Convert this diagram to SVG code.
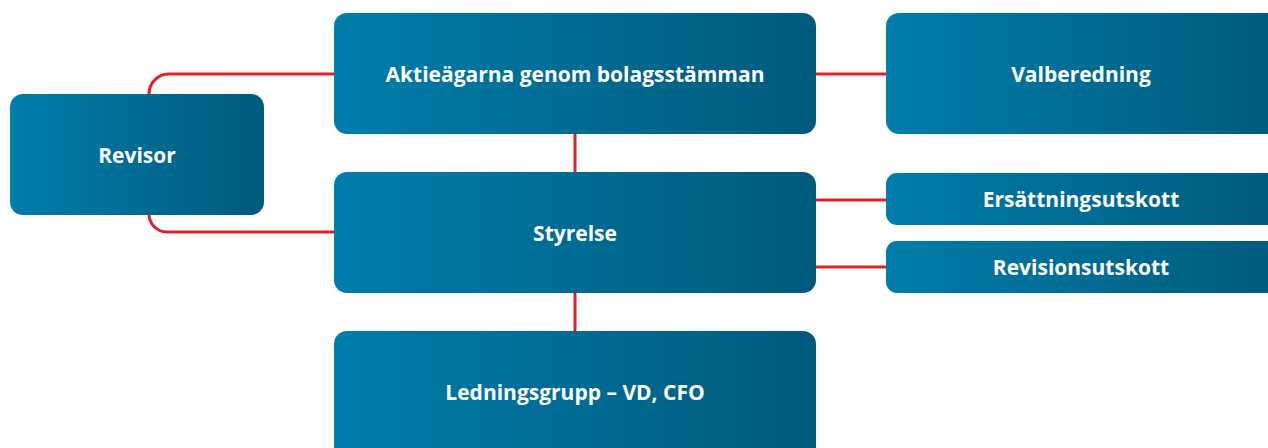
<svg xmlns="http://www.w3.org/2000/svg" width="1268" height="448" viewBox="0 0 1268 448">
<defs>
<linearGradient id="g" x1="0" y1="0" x2="1" y2="0">
<stop offset="0" stop-color="#007dab"/>
<stop offset="1" stop-color="#005a7c"/>
</linearGradient>
<style>
.box{fill:url(#g)}
.t{fill:#ffffff;font-family:"Open Sans",Lato,sans-serif;font-weight:700;font-size:21px;text-anchor:middle;dominant-baseline:central}
.c{fill:none;stroke:#e41e26;stroke-width:3}
</style>
</defs>
<rect width="1268" height="448" fill="#ffffff"/>
<g id="connectors">
<path class="c" d="M149,95 V94 A20,20 0 0 1 169,74 H334"/>
<path class="c" d="M149,214 A18,18 0 0 0 167,232 H334"/>
<path class="c" d="M816,74 H886"/>
<path class="c" d="M575,134 V172"/>
<path class="c" d="M816,200 H886"/>
<path class="c" d="M816,267 H886"/>
<path class="c" d="M575,293 V331"/>
</g>
<g id="aktieagarna"><rect class="box" x="334" y="13" width="482" height="121" rx="13"/><text class="t" x="575" y="74">Aktieägarna genom bolagsstämman</text></g>
<g id="valberedning"><rect class="box" x="886" y="13" width="400" height="121" rx="13"/><text class="t" x="1081" y="74">Valberedning</text></g>
<g id="revisor"><rect class="box" x="10" y="94" width="254" height="121" rx="13"/><text class="t" x="137" y="155">Revisor</text></g>
<g id="styrelse"><rect class="box" x="334" y="172" width="482" height="121" rx="13"/><text class="t" x="575" y="233">Styrelse</text></g>
<g id="ersattningsutskott"><rect class="box" x="886" y="173" width="400" height="52" rx="11"/><text class="t" x="1081" y="199">Ersättningsutskott</text></g>
<g id="revisionsutskott"><rect class="box" x="886" y="241" width="400" height="52" rx="11"/><text class="t" x="1081" y="267">Revisionsutskott</text></g>
<g id="ledningsgrupp"><rect class="box" x="334" y="331" width="482" height="130" rx="13"/><text class="t" x="575" y="392">Ledningsgrupp – VD, CFO</text></g>
</svg>
